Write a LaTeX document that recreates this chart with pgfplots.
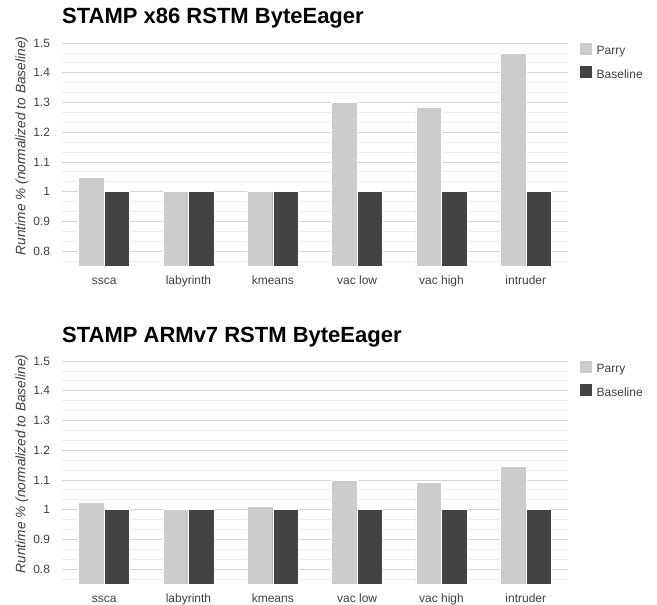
\documentclass[border=0pt]{standalone}
\usepackage{fontspec}
\setmainfont{Liberation Sans}
\usepackage{pgfplots}
\pgfplotsset{compat=1.18}

\definecolor{parry}{HTML}{CCCCCC}
\definecolor{base}{HTML}{434343}
\definecolor{majgrid}{HTML}{D6D6D6}
\definecolor{mingrid}{HTML}{EDEDED}
\definecolor{txt}{HTML}{404040}

\pgfplotsset{
  stampbar/.style={
    scale only axis,
    width=506bp, height=223bp,
    anchor=north west,
    ybar=0pt, bar width=25.5bp,
    xmin=-0.5, xmax=5.5,
    ymin=0.75, ymax=1.5,
    xtick=data,
    xticklabels={ssca,labyrinth,kmeans,vac low,vac high,intruder},
    ytick={0.8,0.9,1,1.1,1.2,1.3,1.4,1.5},
    yticklabels={0.8,0.9,1,1.1,1.2,1.3,1.4,1.5},
    minor ytick={0.76667,0.83333,0.86667,0.93333,0.96667,1.03333,1.06667,1.13333,1.16667,1.23333,1.26667,1.33333,1.36667,1.43333,1.46667},
    ymajorgrids, yminorgrids,
    major grid style={majgrid, line width=0.8bp},
    minor grid style={mingrid, line width=0.8bp},
    axis line style={draw=none},
    major tick length=0pt, minor tick length=0pt,
    tick label style={font=\fontsize{12bp}{14bp}\selectfont, text=txt},
    yticklabel style={xshift=-8.5bp},
    xticklabel style={inner sep=0pt, text height=9bp, text depth=3bp, yshift=-9.3bp},
    legend style={at={(rel axis cs:1,1)}, anchor=north west, xshift=12bp, yshift=0.5bp,
      draw=none, fill=none, inner sep=0pt, row sep=8.4bp, column sep=4.5bp,
      font=\fontsize{12bp}{14bp}\selectfont,
      nodes={inner sep=0pt, text height=9bp, text depth=3bp, text=txt}},
    legend cell align=left,
    legend image code/.code={\fill[#1, draw=none] (0bp,-3bp) rectangle (12bp,9bp);},
    clip=false,
  },
}

\begin{document}
\begin{tikzpicture}
\path[use as bounding box] (-62bp,43bp) rectangle (595bp,-562bp);

% top chart
\begin{axis}[stampbar, at={(0,0)}]
\addplot[fill=parry, draw=white, line width=0.6bp] coordinates {(0,1.048) (1,1.0) (2,1.0) (3,1.30) (4,1.285) (5,1.466)};
\addplot[fill=base, draw=white, line width=0.6bp] coordinates {(0,1.0) (1,1.0) (2,1.0) (3,1.0) (4,1.0) (5,1.0)};
\legend{Parry,Baseline}
\end{axis}
\node[anchor=base west, inner sep=0pt, font=\fontsize{22bp}{26bp}\selectfont\bfseries] at (0bp,19.4bp) {STAMP x86 RSTM ByteEager};
\node[rotate=90, inner sep=0pt, text=txt, font=\fontsize{13.7bp}{16bp}\selectfont\itshape] at (-40.2bp,-103bp) {Runtime \% (normalized to Baseline)};

% bottom chart
\begin{axis}[stampbar, at={(0,-318bp)}]
\addplot[fill=parry, draw=white, line width=0.6bp] coordinates {(0,1.026) (1,1.0) (2,1.012) (3,1.098) (4,1.093) (5,1.147)};
\addplot[fill=base, draw=white, line width=0.6bp] coordinates {(0,1.0) (1,1.0) (2,1.0) (3,1.0) (4,1.0) (5,1.0)};
\legend{Parry,Baseline}
\end{axis}
\node[anchor=base west, inner sep=0pt, font=\fontsize{22bp}{26bp}\selectfont\bfseries] at (0bp,-299.3bp) {STAMP ARMv7 RSTM ByteEager};
\node[rotate=90, inner sep=0pt, text=txt, font=\fontsize{13.7bp}{16bp}\selectfont\itshape] at (-40.2bp,-421bp) {Runtime \% (normalized to Baseline)};
\end{tikzpicture}
\end{document}
